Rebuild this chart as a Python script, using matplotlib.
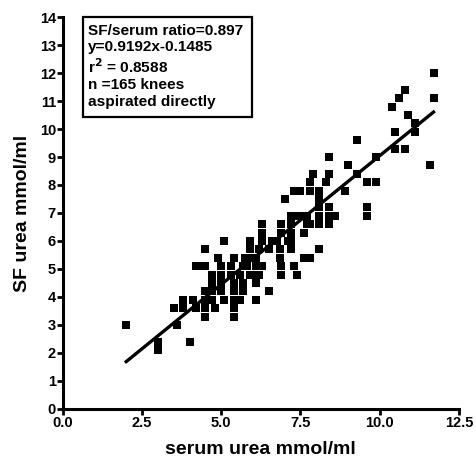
import matplotlib
matplotlib.use("Agg")
import matplotlib.pyplot as plt
from matplotlib.patches import Rectangle
import numpy as np

plt.rcParams['font.family'] = ['Liberation Sans', 'DejaVu Sans']
plt.rcParams['font.weight'] = 'bold'

# Scatter data: rows of SF urea (y) with serum urea (x) values
rows = {
    12.0: [11.7],
    11.4: [10.8],
    11.1: [10.6, 11.7],
    10.8: [10.4],
    10.5: [10.9],
    10.2: [11.1],
    9.9: [10.5, 11.1],
    9.6: [9.3],
    9.3: [10.5, 10.8],
    9.0: [8.4, 9.9],
    8.7: [9.0, 11.6],
    8.4: [7.9, 8.4, 9.3],
    8.1: [7.8, 8.3, 9.6, 9.9],
    7.8: [7.3, 7.5, 7.8, 8.1, 8.9],
    7.5: [7.0, 8.1],
    7.2: [8.1, 8.4, 9.6],
    6.9: [7.2, 7.35, 7.5, 7.7, 8.1, 8.4, 8.6, 9.6],
    6.6: [6.3, 6.9, 7.2, 7.7, 7.8, 8.1, 8.4],
    6.3: [6.3, 6.9, 7.2, 7.6],
    6.0: [5.1, 5.9, 6.3, 6.6, 6.75, 7.1, 7.2],
    5.7: [4.5, 5.9, 6.2, 6.5, 6.85, 7.2, 8.1],
    5.4: [4.9, 5.4, 5.75, 6.0, 6.1, 6.85, 7.6, 7.8],
    5.1: [4.2, 4.3, 4.5, 5.0, 5.3, 5.7, 5.8, 6.1, 6.3, 6.9, 7.3],
    4.8: [4.7, 5.0, 5.3, 5.6, 5.9, 6.1, 6.2, 6.9, 7.4],
    4.5: [4.7, 5.0, 5.4, 5.7, 6.1],
    4.2: [4.5, 4.7, 5.0, 5.4, 5.7, 6.5],
    3.9: [3.8, 4.1, 4.5, 4.7, 5.1, 5.4, 5.6, 6.1],
    3.6: [3.5, 3.8, 4.2, 4.5, 4.8, 5.4],
    3.3: [4.5, 5.4],
    3.0: [2.0, 3.6],
    2.4: [3.0, 4.0],
    2.1: [3.0],
}
serum_urea = [x for y, xs in rows.items() for x in xs]
sf_urea = [y for y, xs in rows.items() for x in xs]

slope = 0.9192
intercept = -0.1485
fit_x = [2.0, 11.7]

x_ticks = [0.0, 2.5, 5.0, 7.5, 10.0, 12.5]
y_ticks = list(range(0, 15))

box_text = ("SF/serum ratio=0.897\n"
            "y=0.9192x-0.1485\n"
            "r$^{\\mathbf{2}}$ = 0.8588\n"
            "n =165 knees\n"
            "aspirated directly")

fig = plt.figure(figsize=(4.76, 4.61), dpi=100)
ax = fig.add_axes([0.132, 0.113, 0.832, 0.850])

ax.scatter(serum_urea, sf_urea, marker='s', s=36, color='black', linewidths=0, zorder=3)
fx = np.array(fit_x)
ax.plot(fx, slope * fx + intercept, color='black', lw=2.4, zorder=4)

ax.set_xlim(0, 12.5)
ax.set_ylim(0, 14)
ax.set_xticks(x_ticks)
ax.set_xticklabels([f"{t:.1f}" for t in x_ticks])
ax.set_yticks(y_ticks)
ax.set_yticklabels([str(t) for t in y_ticks])

for s in ['top', 'right']:
    ax.spines[s].set_visible(False)
for s in ['left', 'bottom']:
    ax.spines[s].set_linewidth(2.2)
ax.tick_params(axis='both', direction='out', length=4, width=2.0, labelsize=10.5, pad=1)
for lab in ax.get_xticklabels() + ax.get_yticklabels():
    lab.set_fontweight('bold')

ax.set_xlabel("serum urea mmol/ml", fontsize=14, fontweight='bold', labelpad=8)
ax.set_ylabel("SF urea mmol/ml", fontsize=14, fontweight='bold', labelpad=6)

ax.add_patch(Rectangle((0.0505, 0.745), 0.4265, 0.255, transform=ax.transAxes,
                       facecolor='white', edgecolor='black', linewidth=1.6,
                       clip_on=False, zorder=5))
ax.text(0.063, 0.982, box_text, transform=ax.transAxes, fontsize=11.1, fontweight='bold',
        va='top', ha='left', linespacing=1.2, zorder=6)

fig.savefig("out.png", dpi=100)
